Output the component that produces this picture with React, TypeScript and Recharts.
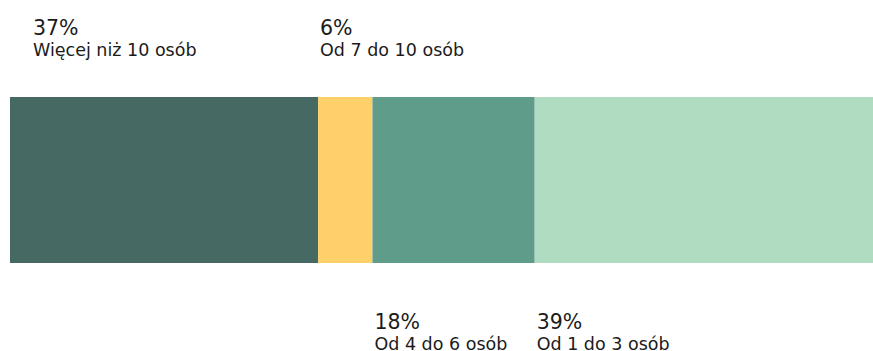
import { BarChart, Bar, XAxis, YAxis } from "recharts";

// category names and shares (shares, labels as printed)
const categories = ["Więcej niż 10 osób", "Od 7 do 10 osób", "Od 4 do 6 osób", "Od 1 do 3 osób"];
const shares = [35.7, 6.3, 18.8, 39.2];
const percentLabels = ["37%", "6%", "18%", "39%"];
const colors = ["#466964", "#FED069", "#5F9D8A", "#B0DCC2"];
const keys = ["s0", "s1", "s2", "s3"];

const row: Record<string, number | string> = { name: "all" };
keys.forEach((k, i) => {
    row[k] = shares[i];
});
const data = [row];

const font = "'DejaVu Sans', sans-serif";

function makeLabel(i: number) {
    return (props: any) => {
        const { x, y, height } = props;
        const tx = i === 0 ? x + 23 : x + 2;
        const above = i < 2;
        const pctY = above ? y - 62 : y + height + 66;
        return (
            <g>
                <text x={tx} y={pctY} fontSize={20.5} fill="#1b1b1b" fontFamily={font}>
                    {percentLabels[i]}
                </text>
                <text x={tx} y={pctY + 21} fontSize={17.5} fill="#1b1b1b" fontFamily={font}>
                    {categories[i]}
                </text>
            </g>
        );
    };
}

export default function App() {
    return (
        <div style={{ position: "absolute", left: 0, top: 0, background: "#fff" }}>
            <BarChart
                width={873}
                height={351}
                data={data}
                layout="vertical"
                margin={{ top: 97, right: 0, bottom: 88, left: 10 }}
                barCategoryGap={0}
            >
                <XAxis type="number" domain={[0, 100]} hide />
                <YAxis type="category" dataKey="name" hide />
                {keys.map((k, i) => (
                    <Bar
                        key={k}
                        dataKey={k}
                        stackId="a"
                        fill={colors[i]}
                        isAnimationActive={false}
                        label={makeLabel(i)}
                    />
                ))}
            </BarChart>
        </div>
    );
}
